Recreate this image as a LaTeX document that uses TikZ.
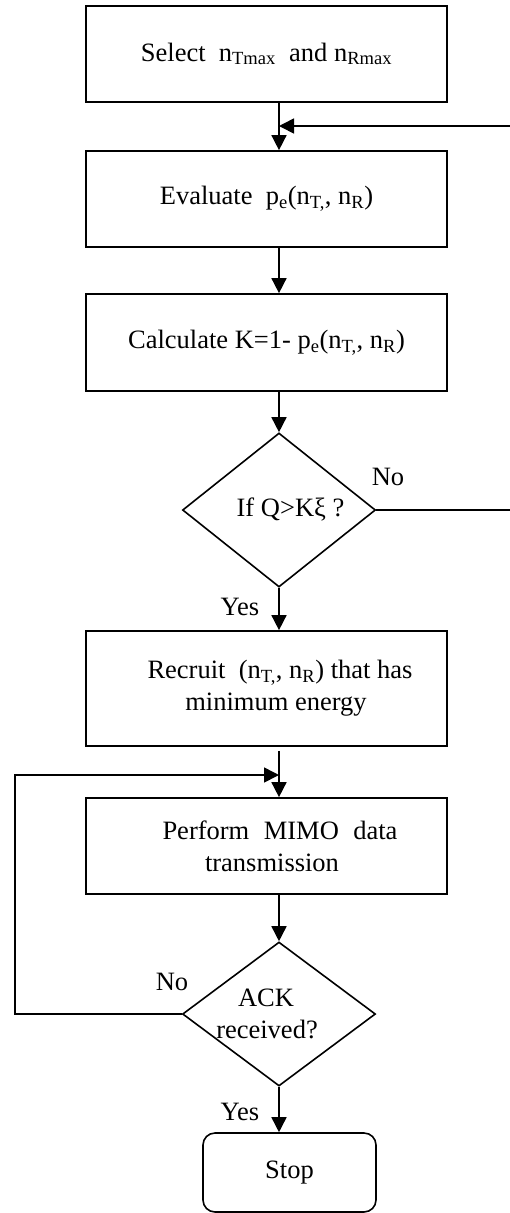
\documentclass[tikz,border=0pt]{standalone}
\usepackage{fontspec}
\setmainfont{Liberation Serif}
\usetikzlibrary{shapes.geometric,arrows.meta}
\newcommand\sbs[1]{\textsubscript{#1}}
\begin{document}
\begin{tikzpicture}[x=1bp,y=-1bp,
  every node/.style={font=\fontsize{26.5bp}{32bp}\selectfont},
  stepbox/.style={draw,line width=1.7bp,minimum width=361bp,inner sep=0pt,align=center},
  decision/.style={draw,diamond,line width=1.6bp,minimum width=193bp,minimum height=144bp,inner sep=0pt,align=center},
  stopbox/.style={draw,rounded corners=12bp,line width=1.6bp,minimum width=173bp,minimum height=79bp,inner sep=0pt},
  flow/.style={line width=1.6bp,-{Triangle[length=15bp,width=15bp]}},
  tag/.style={inner sep=0pt}]

% page frame; the return line on the right runs past its edge
\path[use as bounding box,clip] (0,0) rectangle (510,1213);

% main column of the flow
\coordinate (col) at (279,0);

% process steps and decisions
\node[stepbox,minimum height=96bp] (b1) at (266.5,54)
  {Select\ \ n\sbs{Tmax}\ \ and n\sbs{Rmax}};
\node[stepbox,minimum height=96bp] (b2) at (266.5,199)
  {Evaluate\ \ p\sbs{e}(n\sbs{T,}, n\sbs{R})};
\node[stepbox,minimum height=97bp] (b3) at (266.5,342.5)
  {Calculate K=1- p\sbs{e}(n\sbs{T,}, n\sbs{R})};
\node[decision] (d1) at (279,510) {\hspace*{23bp}If Q>Kξ ?};
\node[stepbox,minimum height=115bp] (b4) at (266.5,688.5)
  {\hspace*{27bp}Recruit\ \ (n\sbs{T,}, n\sbs{R}) that has\\
   \hspace*{19bp}minimum energy};
\node[stepbox,minimum height=96bp] (b5) at (266.5,846)
  {\hspace*{27bp}\makebox[235bp][s]{Perform MIMO data}\\
   \hspace*{11bp}transmission};
\node[decision] (d2) at (279,1014)
  {\hspace*{-26bp}ACK\\ \hspace*{-24bp}received?};
\node[stopbox] (stop) at (289.5,1172.5) {Stop};

% branch labels
\node[tag] (no1) at (388,477) {No};
\node[tag] (yes1) at (240,607) {Yes};
\node[tag] (no2) at (172,982) {No};
\node[tag] (yes2) at (240,1112) {Yes};

% joining points of the return lines
\coordinate (ret1) at (279,126);
\coordinate (ret2) at (279,775);

% forward connectors
\draw[flow] (b1.south -| col) -- (b2.north -| col);
\draw[flow] (b2.south -| col) -- (b3.north -| col);
\draw[flow] (b3.south -| col) -- (d1.north);
\draw[flow] (d1.south) -- (b4.north -| col);
\draw[flow,shorten <=4bp] (b4.south -| col) -- (b5.north -| col);
\draw[flow] (b5.south -| col) -- (d2.north);
\draw[flow] (d2.south) -- (stop.north -| col);

% return lines
\draw[flow] (d1.east) -- (522,510) -- (522,126) -- (ret1);
\draw[flow] (d2.west) -- (15,1014) -- (15,775) -- (ret2);
\end{tikzpicture}
\end{document}
